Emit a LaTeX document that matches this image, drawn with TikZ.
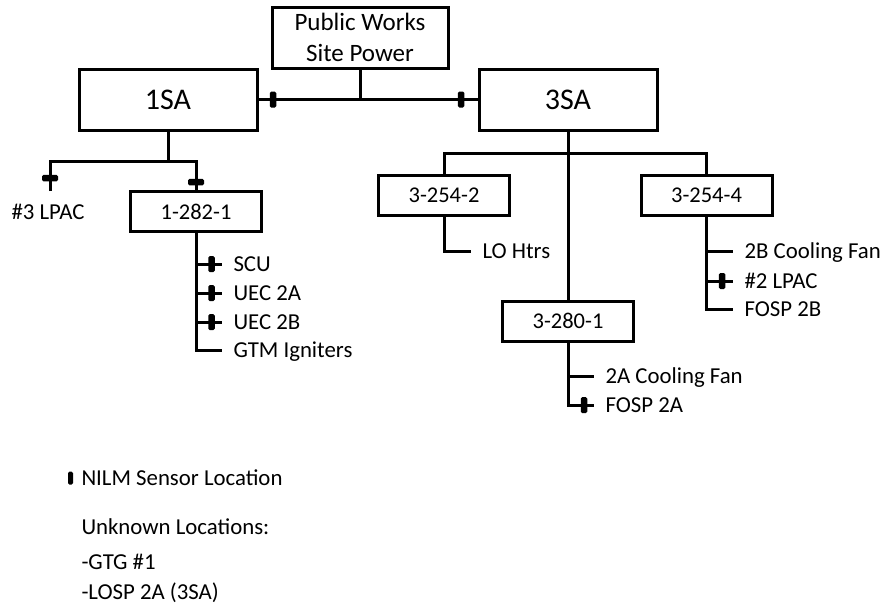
\documentclass[tikz,border=0pt]{standalone}
\usepackage{fontspec}
\setmainfont{Carlito}
\begin{document}
\begin{tikzpicture}[x=1pt,y=-1pt,
  line width=3pt,
  wire/.style={draw, line width=3pt},
  bigbox/.style={draw, line width=3pt, minimum width=178pt, minimum height=61pt,
    inner sep=0pt, font=\fontsize{30}{34}\selectfont},
  subbox/.style={draw, line width=3pt, minimum width=131pt, minimum height=40pt,
    inner sep=0pt, font=\fontsize{22.5}{26}\selectfont},
  leaf/.style={anchor=west, inner xsep=10pt, inner ysep=0pt, text height=16pt,
    text depth=2pt, font=\fontsize{22.8}{26}\selectfont},
  note/.style={anchor=west, inner sep=0pt, text height=16pt, text depth=2pt,
    font=\fontsize{22.8}{26}\selectfont},
  sensor/.style={fill, draw=none, rounded corners=1.5pt, minimum width=6.5pt,
    minimum height=16pt, inner sep=0pt},
  hsensor/.style={sensor, minimum width=16pt, minimum height=6.5pt}]
\useasboundingbox (0,0) rectangle (883,603);

% main supply and switchboards
\node[draw, line width=3pt, minimum width=176pt, minimum height=61pt, inner sep=0pt,
  align=center, font=\fontsize{25}{31}\selectfont] (pw) at (360,37.5) {Public Works\\Site Power};
\node[bigbox] (sa1) at (168,99.5) {1SA};
\node[bigbox] (sa3) at (568,99.5) {3SA};
\coordinate (tap) at (360,99.5);
\draw[wire] (sa1) -- (sa3);
\draw[wire] (pw) -- (tap);

% load centers
\node[subbox] (b1282) at (196,211.5) {1-282-1};
\node[subbox] (b3254a) at (444,195) {3-254-2};
\node[subbox] (b3254b) at (706.5,195) {3-254-4};
\node[subbox] (b3280) at (568,321) {3-280-1};

% 1SA branch
\coordinate (bus1) at (168,161.5);
\coordinate (jr) at (196,161.5);
\coordinate (lpacend) at (50,191);
\node[note, anchor=center] (lpac3) at (48,212) {\#3 LPAC};
\draw[wire] (sa1) -- (bus1);
\draw[wire] (lpacend) |- (jr) -- (b1282);

% 1-282-1 loads
\node[leaf] (scu) at (222,264) {SCU};
\node[leaf] (uec2a) at (222,293) {UEC 2A};
\node[leaf] (uec2b) at (222,322) {UEC 2B};
\node[leaf] (gtm) at (222,350) {GTM Igniters};
\draw[wire] (b1282) |- (gtm);
\draw[wire] (b1282 |- scu) -- (scu);
\draw[wire] (b1282 |- uec2a) -- (uec2a);
\draw[wire] (b1282 |- uec2b) -- (uec2b);

% 3SA branch
\coordinate (h3) at (568,153);
\draw[wire] (sa3) -- (b3280);
\draw[wire] (b3254a) |- (h3) -| (b3254b);

% 3-254-2 loads
\node[leaf] (lohtrs) at (471,251) {LO Htrs};
\draw[wire] (b3254a) |- (lohtrs);

% 3-254-4 loads
\node[leaf] (fan2b) at (733,251) {2B Cooling Fan};
\node[leaf] (lpac2) at (733,281) {\#2 LPAC};
\node[leaf] (fosp2b) at (733,309) {FOSP 2B};
\draw[wire] (b3254b) |- (fosp2b);
\draw[wire] (b3254b |- fan2b) -- (fan2b);
\draw[wire] (b3254b |- lpac2) -- (lpac2);

% 3-280-1 loads
\node[leaf] (fan2a) at (594,376) {2A Cooling Fan};
\node[leaf] (fosp2a) at (594,405) {FOSP 2A};
\draw[wire] (b3280) |- (fosp2a);
\draw[wire] (b3280 |- fan2a) -- (fan2a);

% sensor locations
\node[sensor] (s1) at (273,99.5) {};
\node[sensor] (s2) at (461,99.5) {};
\node[hsensor] (s3) at (50,178) {};
\node[hsensor] (s4) at (196,182) {};
\node[sensor] (s5) at (211.5,264) {};
\node[sensor] (s6) at (211.5,293) {};
\node[sensor] (s7) at (211.5,322) {};
\node[sensor] (s8) at (722,281) {};
\node[sensor] (s9) at (584,405) {};

% legend
\node[sensor, minimum width=5pt, minimum height=13pt] (skey) at (70.5,478) {};
\node[note] (keytext) at (80,478) {NILM Sensor Location};
\node[note] (unk) at (80,527) {Unknown Locations:};
\node[note] (unk1) at (80,562) {-GTG \#1};
\node[note] (unk2) at (80,592) {-LOSP 2A (3SA)};
\end{tikzpicture}
\end{document}
